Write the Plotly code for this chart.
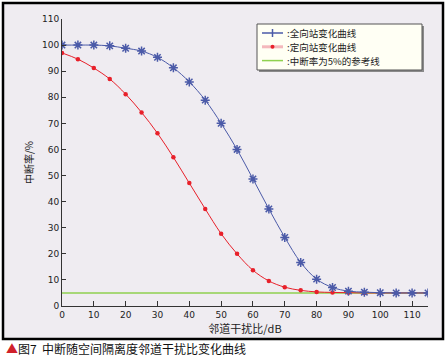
import plotly.graph_objects as go

x_vals = [0, 5, 10, 15, 20, 25, 30, 35, 40, 45, 50, 55, 60, 65, 70, 75, 80, 85, 90, 95, 100, 105, 110, 115]
omni = [100, 100, 100, 99.7, 98.8, 97.7, 95.3, 91.3, 85.9, 78.9, 70, 60, 48.7, 37.2, 26.3, 16.7, 10.3, 7.1, 5.7, 5.3, 5.1, 5.0, 5.0, 5.0]
direc = [97.0, 94.6, 91.2, 87.0, 81.2, 74.2, 66.2, 57.0, 47.1, 37.2, 27.7, 20.0, 13.7, 9.6, 7.2, 6.0, 5.4, 5.2, 5.1, 5.0, 5.0, 5.0, 5.0, 5.0]
ref_x = [0, 115]
ref_y = [5, 5]

names = [":全向站变化曲线", ":定向站变化曲线", ":中断率为5%的参考线"]
x_title = "邻道干扰比/dB"
y_title = "中断率/%"
caption = "图7  中断随空间隔离度邻道干扰比变化曲线"

BG = "#efecf1"
BLUE = "#4b5aa8"
RED = "#e8202a"
GREEN = "#8fd14f"
PINK = "#f4b8bc"

L, R, T, B = 62, 18, 19, 52
W, H = 446, 358
PW, PH = W - L - R, H - T - B


def px(x):
    return (x - L) / PW


def py(y):
    return (H - B - y) / PH


fig = go.Figure()
fig.add_trace(go.Scatter(x=ref_x, y=ref_y, mode="lines", line=dict(color=GREEN, width=1.5),
                         name=names[2], showlegend=False, hoverinfo="skip"))
fig.add_trace(go.Scatter(x=x_vals, y=direc, mode="lines+markers", line=dict(color=RED, width=1, shape="spline"),
                         name=names[1], marker=dict(color=RED, size=4.5), showlegend=False))
fig.add_trace(go.Scatter(x=x_vals, y=omni, mode="lines+markers", line=dict(color=BLUE, width=1, shape="spline"),
                         name=names[0],
                         marker=dict(symbol="asterisk-open", size=7.5, line=dict(color=BLUE, width=1.5)),
                         showlegend=False))

fig.update_layout(
    width=W, height=H,
    margin=dict(l=L, r=R, t=T, b=B, autoexpand=False),
    paper_bgcolor="white",
    plot_bgcolor=BG,
    showlegend=False,
    font=dict(family="DejaVu Sans", size=9, color="#222"),
    xaxis=dict(range=[0, 115], tickvals=list(range(0, 111, 10)), showgrid=False, zeroline=False,
               showline=True, linecolor="#333", linewidth=1, ticks="inside", ticklen=5, tickcolor="#333",
               automargin=False,
               title=dict(text=x_title, font=dict(family="Noto Sans CJK SC", size=11), standoff=6)),
    yaxis=dict(range=[0, 110], tickvals=list(range(0, 111, 10)), showgrid=False, zeroline=False,
               showline=True, linecolor="#333", linewidth=1, ticks="inside", ticklen=4, tickcolor="#333",
               automargin=False,
               title=dict(text=y_title, font=dict(family="Noto Sans CJK SC", size=10), standoff=6)),
)

# outer frame
fig.add_shape(type="rect", xref="paper", yref="paper", x0=px(3), x1=px(443), y0=py(339), y1=py(3),
              line=dict(color="black", width=2.5), fillcolor=BG, layer="below")

# legend box (shadow + box)
fig.add_shape(type="rect", xref="paper", yref="paper", x0=px(259), x1=px(424), y0=py(72), y1=py(26),
              line=dict(width=0), fillcolor="#8a8a8a")
fig.add_shape(type="rect", xref="paper", yref="paper", x0=px(257), x1=px(422), y0=py(70), y1=py(24),
              line=dict(color="#555", width=1), fillcolor="#fffff4")
rows = [33, 46.8, 60.6]
line_cols = [BLUE, PINK, GREEN]
line_w = [1.5, 3, 1.5]
for i in range(3):
    fig.add_shape(type="line", xref="paper", yref="paper", x0=px(262), x1=px(283), y0=py(rows[i]), y1=py(rows[i]),
                  line=dict(color=line_cols[i], width=line_w[i]))
    fig.add_annotation(xref="paper", yref="paper", x=px(286), y=py(rows[i]), xanchor="left", yanchor="middle",
                       text=names[i], showarrow=False, borderpad=0,
                       font=dict(family="Noto Sans CJK SC", size=9.5, color="#222"))
# legend markers
fig.add_shape(type="line", xref="paper", yref="paper", x0=px(272.5), x1=px(272.5), y0=py(rows[0] - 4), y1=py(rows[0] + 4),
              line=dict(color=BLUE, width=1.5))
fig.add_shape(type="circle", xref="paper", yref="paper", x0=px(270.5), x1=px(274.5), y0=py(rows[1] + 2), y1=py(rows[1] - 2),
              line=dict(width=0), fillcolor=RED)

fig.add_annotation(xref="paper", yref="paper", x=px(4), y=py(349), xanchor="left", yanchor="middle",
                   text="<span style='color:#d0202a'>▲</span>" + caption, showarrow=False,
                   font=dict(family="Noto Sans CJK SC", size=12, color="#111"))

fig.write_html("out.html", config={"displayModeBar": False},
               post_script="document.body.style.margin='0px';document.body.style.overflow='hidden';")
